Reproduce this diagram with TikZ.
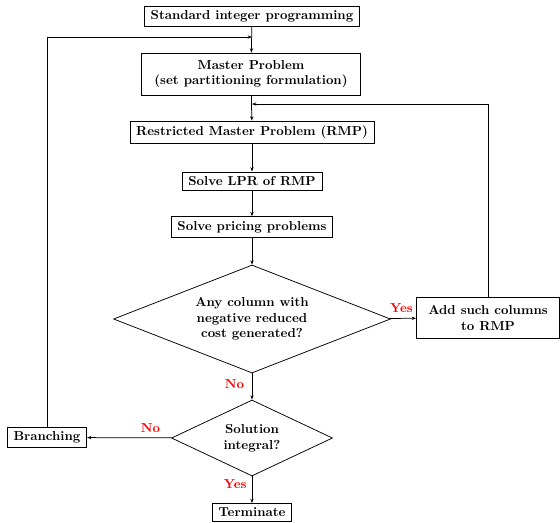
\documentclass[tikz,border=0pt]{standalone}
\usetikzlibrary{shapes.geometric,arrows.meta}
\begin{document}
\begin{tikzpicture}[x=0.8pt,y=-0.8pt,
  every node/.style={font=\fontsize{10.4}{12.6}\selectfont\bfseries},
  box/.style={draw,semithick,inner xsep=5pt,inner ysep=3.6pt,align=center},
  dia/.style={draw,semithick,diamond,inner sep=0pt,align=center},
  arr/.style={semithick,-{Stealth[length=3.5pt,width=2.6pt]}},
  lbl/.style={text=red,inner sep=1pt}]
\useasboundingbox (0,0) rectangle (560,523);
\node[box] (sip) at (252,16.5) {Standard integer programming};
\node[box,inner xsep=10.5pt,minimum height=33.6pt] (mp) at (251,74) {Master Problem\\(set partitioning formulation)};
\node[box] (rmp) at (252,132) {Restricted Master Problem (RMP)};
\node[box] (lpr) at (252,181) {Solve LPR of RMP};
\node[box] (pp) at (252,227) {Solve pricing problems};
\node[dia,aspect=2.565,minimum width=221.6pt,minimum height=86.4pt] (d1) at (252,319) {Any column with\\negative reduced\\cost generated?};
\node[box,minimum width=114.4pt,minimum height=33pt] (add) at (488,318) {Add such columns\\to RMP};
\node[dia,aspect=2.12,minimum width=128.8pt,minimum height=60.8pt] (d2) at (252,438) {Solution\\integral?};
\node[box] (br) at (47,437.5) {Branching};
\node[box] (term) at (252,512.5) {Terminate};
\coordinate (j1) at (252,37);
\coordinate (j2) at (252,104);
\draw[arr] (sip) -- (mp);
\draw[arr] (mp) -- (rmp);
\draw[arr] (rmp) -- (lpr);
\draw[arr] (lpr) -- (pp);
\draw[arr] (pp) -- (d1);
\draw[arr] (d1) -- node[lbl,above=3pt,pos=0.45] {Yes} (add);
\draw[arr] (d1) -- node[lbl,left,pos=0.4,xshift=-5pt] {No} (d2);
\draw[arr] (d2) -- node[lbl,above=3pt,pos=0.25] {No} (br);
\draw[arr] (d2) -- node[lbl,left,pos=0.3,xshift=-3pt] {Yes} (term);
\draw[arr] (br.north) |- (j1);
\draw[arr] (add.north) |- (j2);
\end{tikzpicture}
\end{document}
